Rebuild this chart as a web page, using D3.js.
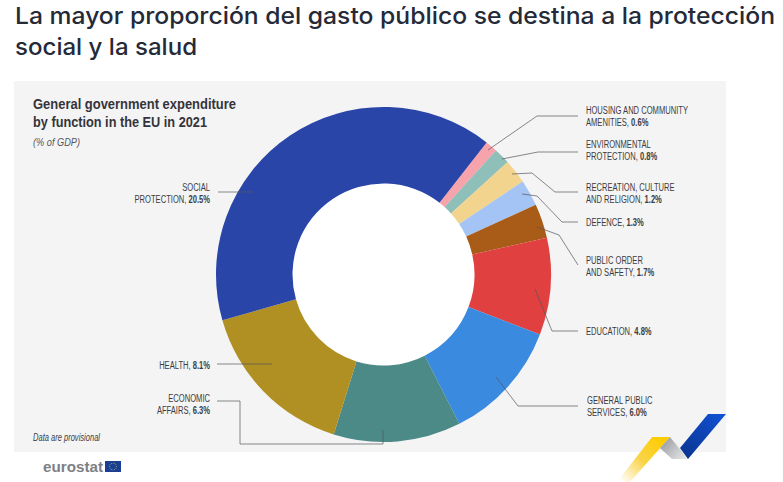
<!DOCTYPE html>
<html>
  <head>
    <meta charset="utf-8" />
    <title>Gasto público</title>
    <script src="https://d3js.org/d3.v7.min.js"></script>
    <style>
      html, body { margin: 0; padding: 0; background: #fff; }
      svg { display: block; }
      .lab { font-family: "Liberation Sans", sans-serif; font-size: 11.5px; fill: #3c3c41; }
      .lab .val { font-weight: bold; }
    </style>
  </head>
  <body>
    <div id="chart"></div>
    <script>
      const w = 783;
      const h = 482;

      // clockwise, starting from the pink slice
      const categories = [
        "HOUSING AND COMMUNITY|AMENITIES,",
        "ENVIRONMENTAL|PROTECTION,",
        "RECREATION, CULTURE|AND RELIGION,",
        "DEFENCE,",
        "PUBLIC ORDER|AND SAFETY,",
        "EDUCATION,",
        "GENERAL PUBLIC|SERVICES,",
        "ECONOMIC|AFFAIRS,",
        "HEALTH,",
        "SOCIAL|PROTECTION,"
      ];
      const values = [0.6, 0.8, 1.2, 1.3, 1.7, 4.8, 6.0, 6.3, 8.1, 20.5];
      const colors = ["#f7a3ab", "#8fbfb9", "#f2d48f", "#a3c4f5", "#a85c18", "#e04040", "#3a8ae0", "#4b8a87", "#b09022", "#2a45a8"];

      // label anchor + leader line for each slice, same order as above
      const labelPos = [
        { x: 586, y: 114, leader: [[578,116],[537,116],[488,150]] },
        { x: 586, y: 148, leader: [[578,152],[538,152],[502,159]] },
        { x: 586, y: 191, leader: [[578,192],[555,192],[532,173],[512,174]] },
        { x: 586, y: 226, leader: [[578,222],[562,222],[537,196],[522,194]] },
        { x: 586, y: 264, leader: [[578,265],[559,235],[537,227]] },
        { x: 586, y: 335, leader: [[578,331],[552,331],[535,289]] },
        { x: 587, y: 404, leader: [[578,406],[518,406],[496,377]] },
        { x: 210, y: 402, anchor: "end", leader: [[217,401],[240,401],[240,444],[383,444],[383,430]] },
        { x: 210, y: 369, anchor: "end", leader: [[217,364],[272,364]] },
        { x: 210, y: 191, anchor: "end", leader: [[218,192],[253,192]] }
      ];

      const svg = d3.select("#chart").append("svg").attr("width", w).attr("height", h);
      const defs = svg.append("defs");

      function grad(id, x1, y1, x2, y2, stops) {
        const g = defs.append("linearGradient").attr("id", id)
          .attr("gradientUnits", "userSpaceOnUse")
          .attr("x1", x1).attr("y1", y1).attr("x2", x2).attr("y2", y2);
        stops.forEach((s) => g.append("stop").attr("offset", s[0]).attr("stop-color", s[1]));
      }
      grad("yel", 662, 440, 622, 482, [[0, "#ffcc00"], [0.5, "#f9d44a"], [1, "#ffffff"]]);
      grad("gry", 668, 440, 690, 458, [[0, "#a5a7ab"], [1, "#f0f0f0"]]);
      grad("blu", 718, 414, 684, 458, [[0, "#1150d0"], [1, "#0a3590"]]);

      // page heading
      svg.append("text").attr("x", 15).attr("y", 24)
        .attr("font-family", "Inter").attr("font-weight", 500).attr("font-size", 23.5)
        .attr("textLength", 760).attr("lengthAdjust", "spacingAndGlyphs")
        .attr("fill", "#242a38")
        .text("La mayor proporción del gasto público se destina a la protección");
      svg.append("text").attr("x", 15).attr("y", 55)
        .attr("font-family", "Inter").attr("font-weight", 500).attr("font-size", 23.5)
        .attr("textLength", 182).attr("lengthAdjust", "spacingAndGlyphs")
        .attr("fill", "#242a38")
        .text("social y la salud");

      // grey panel
      svg.append("rect").attr("x", 14).attr("y", 81).attr("width", 712).attr("height", 371).attr("fill", "#f4f4f5");

      // donut, the hole is white and not panel grey
      const pie = d3.pie().sort(null)
        .startAngle((38 * Math.PI) / 180)
        .endAngle((398 * Math.PI) / 180);
      const arc = d3.arc().innerRadius(91).outerRadius(167.5);
      const donut = svg.append("g").attr("transform", "translate(383.5,274.5)");
      donut.append("circle").attr("r", 92).attr("fill", "#ffffff");
      donut.selectAll("path").data(pie(values)).join("path")
        .attr("d", arc)
        .attr("fill", (d, i) => colors[i]);

      // leaders
      const line = d3.line();
      svg.selectAll(".leader").data(labelPos).join("path")
        .attr("class", "leader")
        .attr("d", (d) => line(d.leader))
        .attr("fill", "none")
        .attr("stroke", "#55565c")
        .attr("stroke-width", 0.7);

      // labels, squeezed sideways because no condensed font is installed
      categories.forEach((c, i) => {
        const p = labelPos[i];
        const lines = c.split("|");
        lines.forEach((l, j) => {
          const t = svg.append("text").attr("class", "lab")
            .attr("text-anchor", p.anchor || "start")
            .attr("transform", "translate(" + p.x + "," + (p.y + j * 11.8) + ") scale(0.66,1)");
          t.append("tspan").text(l);
          if (j == lines.length - 1) {
            t.append("tspan").attr("class", "val").text(" " + values[i].toFixed(1) + "%");
          }
        });
      });

      // chart title
      const title = ["General government expenditure", "by function in the EU in 2021"];
      const titleWidth = [203, 174];
      svg.selectAll(".ttl").data(title).join("text")
        .attr("class", "ttl")
        .attr("x", 33)
        .attr("y", (d, i) => 109 + i * 18)
        .attr("font-family", "Liberation Sans")
        .attr("font-weight", "bold")
        .attr("font-size", 15.5)
        .attr("textLength", (d, i) => titleWidth[i])
        .attr("lengthAdjust", "spacingAndGlyphs")
        .attr("fill", "#34343a")
        .text((d) => d);

      svg.append("text").attr("x", 33).attr("y", 146)
        .attr("font-family", "Liberation Sans").attr("font-style", "italic")
        .attr("font-size", 10).attr("fill", "#55565c")
        .attr("textLength", 47).attr("lengthAdjust", "spacingAndGlyphs")
        .text("(% of GDP)");
      svg.append("text").attr("x", 33).attr("y", 441)
        .attr("font-family", "Liberation Sans").attr("font-style", "italic")
        .attr("font-size", 10.5).attr("fill", "#3c3c41")
        .attr("textLength", 67).attr("lengthAdjust", "spacingAndGlyphs")
        .text("Data are provisional");

      // eurostat logo
      svg.append("text").attr("x", 43).attr("y", 472)
        .attr("font-family", "Liberation Sans").attr("font-weight", "bold")
        .attr("font-size", 15).attr("fill", "#7d7f85")
        .attr("textLength", 60).attr("lengthAdjust", "spacingAndGlyphs")
        .text("eurostat");
      svg.append("rect").attr("x", 105).attr("y", 461).attr("width", 16).attr("height", 11).attr("fill", "#1a3f94");
      svg.selectAll(".star").data(d3.range(12)).join("circle")
        .attr("cx", (d) => 113 + 3.4 * Math.cos((d * Math.PI) / 6))
        .attr("cy", (d) => 466.5 + 3.4 * Math.sin((d * Math.PI) / 6))
        .attr("r", 0.45)
        .attr("fill", "#f5d94a");

      // corner chevrons
      const chevrons = [
        { pts: [[652,437],[670,437],[630,482],[617,482]], fill: "url(#yel)" },
        { pts: [[670,437],[688,459],[672,459],[660,448]], fill: "url(#gry)" },
        { pts: [[708,414],[726,414],[688,459],[680,448]], fill: "url(#blu)" }
      ];
      svg.selectAll(".chev").data(chevrons).join("polygon")
        .attr("class", "chev")
        .attr("points", (d) => d.pts.join(" "))
        .attr("fill", (d) => d.fill);
    </script>
  </body>
</html>
